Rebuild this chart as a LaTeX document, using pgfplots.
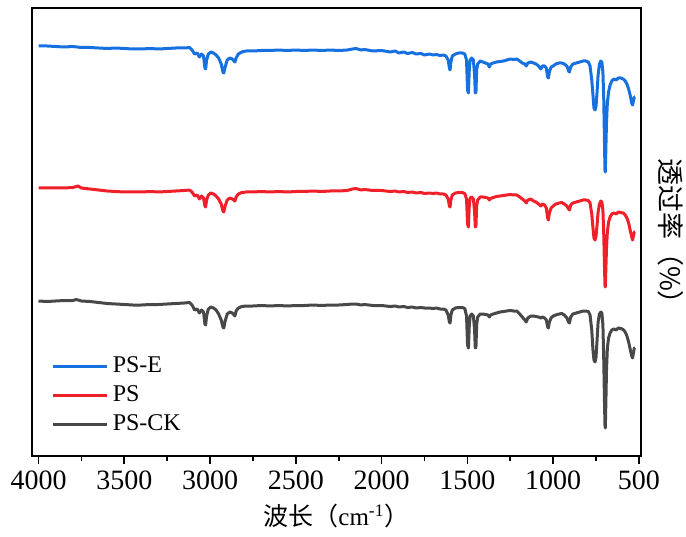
\documentclass[border=0pt]{standalone}
\usepackage{fontspec}
\setmainfont{Liberation Serif}
\newfontfamily\cjk{Noto Sans CJK SC}
\usepackage{pgfplots}
\pgfplotsset{compat=1.18}
\definecolor{cblue}{RGB}{22,112,224}
\definecolor{cred}{RGB}{240,32,42}
\definecolor{cgray}{RGB}{72,72,72}
\begin{document}
\begin{tikzpicture}
\begin{axis}[
  scale only axis, width=304.5pt, height=224pt,
  x dir=reverse, xmin=488, xmax=4038, ymin=-456, ymax=-8,
  xtick={500,1000,...,4000}, minor xtick={750,1250,...,3750},
  ytick=\empty, xtick pos=bottom, tick align=outside,
  major tick length=4pt, minor tick length=2.5pt,
  axis line style={line width=0.8pt},
  every tick/.style={black, line width=0.8pt},
  tick label style={font=\fontsize{14}{16}\selectfont},
  /pgf/number format/assume math mode=true,
  /pgf/number format/1000 sep={},
  xlabel={{\cjk 波长（}cm\textsuperscript{-1}{\cjk ）}},
  xlabel style={font=\fontsize{12.5}{14}\selectfont, yshift=0pt},
  legend cell align=left,
  legend image code/.code={\draw[#1] (0pt,0pt) -- (27pt,0pt);},
  legend style={draw=none, fill=none, font=\fontsize{12}{13}\selectfont,
    at={(rel axis cs:0.022,0.24)}, anchor=north west, row sep=1pt,
    /tikz/every even column/.append style={column sep=0pt}},
  every axis plot/.append style={line width=1.5pt, line join=round},
]
\addplot[cblue] coordinates {
(4000,-46)(3950,-46)(3900,-46.5)(3850,-47)(3800,-46.5)(3750,-47.5)(3700,-47.5)(3650,-48)(3600,-48.5)(3550,-48)(3500,-48.5)(3450,-49)(3400,-49)(3350,-48.5)(3300,-49)(3250,-48.5)(3200,-48)(3150,-48)(3120,-47.5)(3105,-50)(3090,-54)(3075,-53)(3062,-57)(3050,-54)(3038,-56)(3030,-68)(3026,-69)(3020,-60)(3010,-54)(2995,-52)(2980,-53)(2965,-55)(2950,-58)(2935,-64)(2925,-72)(2920,-73)(2912,-67)(2900,-60)(2885,-58)(2870,-59)(2855,-62)(2848,-58)(2835,-54)(2815,-52)(2790,-51)(2750,-51)(2700,-50.5)(2650,-50.5)(2600,-50)(2550,-50.5)(2500,-50)(2450,-50.5)(2400,-50)(2350,-50.5)(2300,-50)(2250,-50.5)(2200,-50)(2170,-49)(2150,-48.5)(2120,-50)(2100,-49.5)(2050,-51)(2000,-50.5)(1950,-52)(1920,-51)(1900,-53)(1870,-52)(1850,-53.5)(1820,-52.5)(1800,-54)(1770,-53.5)(1750,-55)(1720,-54)(1700,-55)(1680,-54.5)(1660,-55.5)(1640,-55)(1625,-56)(1612,-60)(1605,-68)(1601,-70)(1596,-62)(1588,-56)(1570,-54)(1550,-53)(1530,-53)(1515,-54)(1505,-60)(1499,-90)(1494,-93)(1489,-70)(1484,-60)(1475,-58)(1465,-60)(1458,-75)(1454,-93)(1450,-92)(1446,-70)(1440,-64)(1425,-61)(1410,-62)(1395,-63)(1380,-64)(1372,-67)(1365,-64)(1350,-63)(1330,-62)(1310,-61.5)(1290,-61)(1270,-60)(1250,-59)(1230,-59.5)(1212,-59)(1195,-61)(1180,-63)(1165,-64)(1157,-66)(1148,-63)(1130,-62)(1115,-63)(1100,-64)(1085,-66)(1072,-69)(1062,-66)(1050,-66)(1040,-68)(1032,-77)(1028,-78)(1022,-72)(1012,-67)(1000,-66)(985,-64)(965,-63)(950,-63)(935,-64)(920,-66)(910,-71)(905,-72)(898,-67)(885,-64)(865,-63)(845,-62)(825,-61)(810,-61)(795,-62)(785,-66)(775,-80)(768,-95)(762,-108)(756,-110)(750,-106)(744,-92)(738,-75)(730,-64)(722,-61)(716,-62)(710,-72)(705,-100)(701,-140)(698,-170)(696,-172)(693,-150)(689,-122)(684,-103)(677,-92)(668,-85)(658,-81)(646,-79)(632,-80)(620,-78)(605,-78)(592,-79)(580,-81)(570,-84)(560,-89)(550,-96)(542,-103)(537,-105)(532,-101)(527,-97)(524,-97)
};
\addlegendentry{PS-E}
\addplot[cred] coordinates {
(4000,-188)(3950,-188)(3900,-188)(3850,-188)(3800,-187.5)(3770,-186)(3750,-188)(3700,-189)(3650,-190)(3600,-191)(3550,-191.5)(3500,-192)(3450,-192)(3400,-192)(3350,-191.5)(3300,-192)(3250,-191.5)(3200,-191)(3150,-190.5)(3120,-190)(3105,-192)(3090,-196)(3075,-195)(3062,-199)(3050,-196)(3038,-198)(3030,-206)(3026,-207)(3020,-200)(3010,-195)(2995,-193)(2980,-194)(2965,-196)(2950,-199)(2935,-204)(2925,-211)(2920,-212)(2912,-206)(2900,-200)(2885,-198)(2870,-199)(2855,-201)(2848,-197)(2835,-194)(2815,-192.5)(2790,-192)(2750,-192)(2700,-191.5)(2650,-192)(2600,-191.5)(2550,-192)(2500,-191.5)(2450,-191.5)(2400,-191)(2350,-191.5)(2300,-191)(2250,-191)(2200,-190.5)(2170,-189)(2150,-188.5)(2120,-190)(2100,-189.5)(2050,-190.5)(2000,-190.5)(1950,-191.5)(1920,-191)(1900,-192)(1870,-191.5)(1850,-192.5)(1820,-192)(1800,-193)(1770,-192.5)(1750,-193.5)(1720,-193)(1700,-193.5)(1680,-193)(1660,-194)(1640,-194)(1625,-195)(1612,-199)(1605,-206)(1601,-207)(1596,-200)(1588,-195)(1570,-193)(1550,-192.5)(1530,-192.5)(1515,-193.5)(1505,-199)(1499,-224)(1494,-227)(1489,-206)(1484,-198)(1475,-197)(1465,-199)(1458,-212)(1454,-227)(1450,-226)(1446,-206)(1440,-200)(1425,-197)(1410,-197)(1395,-197.5)(1380,-198)(1372,-200)(1365,-198.5)(1350,-197.5)(1330,-196.5)(1310,-196)(1290,-195.5)(1270,-195)(1250,-194.5)(1230,-195)(1212,-195)(1195,-197)(1180,-199)(1165,-201)(1157,-203)(1148,-200)(1130,-199)(1115,-201)(1100,-202)(1085,-204)(1072,-206)(1062,-204)(1050,-205)(1040,-208)(1032,-218)(1028,-220)(1022,-213)(1012,-208)(1000,-206)(985,-204)(965,-203)(950,-202.5)(935,-204)(920,-206)(910,-209)(905,-210)(898,-205)(885,-203)(865,-202)(845,-201)(825,-200)(810,-200)(795,-200.5)(785,-203)(775,-214)(768,-228)(762,-238)(756,-240)(750,-236)(744,-225)(738,-212)(730,-204)(722,-201)(716,-202)(710,-210)(705,-235)(701,-265)(698,-285)(696,-287)(693,-270)(689,-248)(684,-232)(677,-222)(668,-217)(658,-214)(646,-213)(632,-214)(620,-212)(605,-212.5)(592,-213)(580,-215)(570,-218)(560,-223)(550,-231)(542,-237)(537,-240)(532,-236)(527,-232)(524,-232)
};
\addlegendentry{PS}
\addplot[cgray] coordinates {
(4000,-301)(3950,-301.5)(3900,-301)(3850,-300.5)(3800,-300.5)(3780,-299.5)(3750,-301)(3700,-301.5)(3650,-302.5)(3600,-303.5)(3550,-304)(3500,-304.5)(3450,-305)(3400,-305)(3350,-304.5)(3300,-304.5)(3250,-304)(3200,-303.5)(3150,-303)(3120,-302.5)(3105,-305)(3090,-310)(3075,-309)(3062,-313)(3050,-310)(3038,-312)(3030,-324)(3026,-325)(3020,-316)(3010,-309)(2995,-307)(2980,-308)(2965,-310)(2950,-314)(2935,-320)(2925,-327)(2920,-328)(2912,-321)(2900,-314)(2885,-312)(2870,-313)(2855,-316)(2848,-311)(2835,-308)(2815,-306.5)(2790,-306)(2750,-306)(2700,-305.5)(2650,-306)(2600,-305.5)(2550,-306)(2500,-305.5)(2450,-305.5)(2400,-305)(2350,-305.5)(2300,-305)(2250,-305)(2200,-304.5)(2170,-304)(2150,-304)(2120,-305)(2100,-304.5)(2050,-305.5)(2000,-305.5)(1950,-306.5)(1920,-306)(1900,-307)(1870,-306.5)(1850,-307.5)(1820,-307)(1800,-308)(1770,-307.5)(1750,-308)(1720,-308)(1700,-308.5)(1680,-308)(1660,-309)(1640,-309)(1625,-310)(1612,-315)(1605,-322)(1601,-323)(1596,-315)(1588,-310)(1570,-308)(1550,-307.5)(1530,-307.5)(1515,-308.5)(1505,-316)(1499,-345)(1494,-348)(1489,-326)(1484,-316)(1475,-314)(1465,-316)(1458,-330)(1454,-348)(1450,-347)(1446,-325)(1440,-317)(1425,-314)(1410,-314)(1395,-314.5)(1380,-315)(1372,-317)(1365,-315)(1350,-314)(1330,-313)(1310,-312)(1290,-311.5)(1270,-311)(1250,-310.5)(1230,-311)(1212,-311)(1195,-314)(1180,-317)(1165,-320)(1157,-322)(1148,-318)(1130,-316)(1115,-316)(1100,-316.5)(1085,-317)(1072,-318)(1062,-317)(1050,-318)(1040,-320)(1032,-327)(1028,-328)(1022,-322)(1012,-318)(1000,-316)(985,-315)(965,-314)(950,-313.5)(935,-315)(920,-318)(910,-322)(905,-323)(898,-317)(885,-314)(865,-313)(845,-312)(825,-311)(810,-311)(795,-311.5)(785,-315)(775,-330)(768,-350)(762,-360)(756,-362)(750,-357)(744,-340)(738,-322)(730,-314)(722,-312)(716,-313)(710,-325)(705,-360)(701,-400)(698,-425)(696,-428)(693,-405)(689,-370)(684,-348)(677,-338)(668,-333)(658,-330)(646,-329)(632,-330)(620,-328)(605,-328.5)(592,-329.5)(580,-332)(570,-336)(560,-342)(550,-350)(542,-356)(537,-358)(532,-353)(527,-348)(524,-348)
};
\addlegendentry{PS-CK}
\end{axis}
\node[rotate=-90, anchor=south, inner sep=0pt, font=\fontsize{13.5}{15}\selectfont]
  at ([xshift=8.5pt, yshift=-3pt]current axis.east) {{\cjk 透过率（\%）}};
\path ([xshift=-16pt, yshift=-40pt]current axis.south west) rectangle ([xshift=22.5pt, yshift=4pt]current axis.north east);
\end{tikzpicture}
\end{document}
